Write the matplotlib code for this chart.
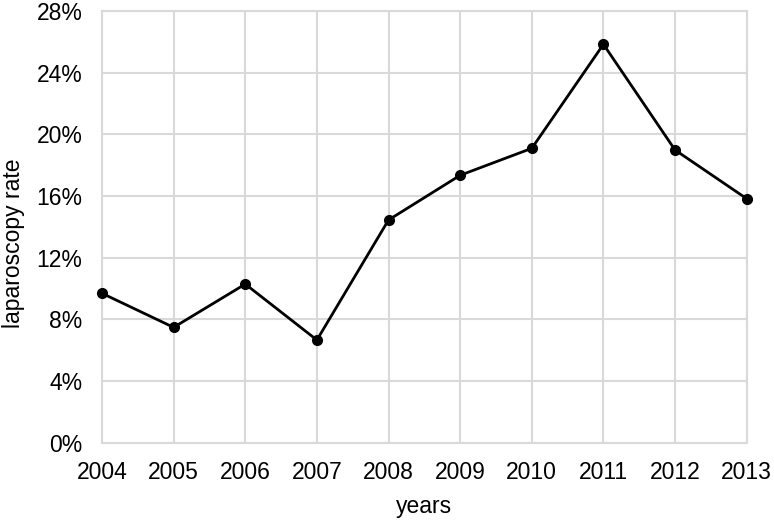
import matplotlib
matplotlib.use("Agg")
import matplotlib.pyplot as plt
from matplotlib.ticker import FuncFormatter

years = [2004, 2005, 2006, 2007, 2008, 2009, 2010, 2011, 2012, 2013]
rates = [9.68, 7.47, 10.28, 6.65, 14.44, 17.34, 19.09, 25.84, 18.98, 15.82]
yticks = [0, 4, 8, 12, 16, 20, 24, 28]

plt.rcParams['font.family'] = ['Liberation Sans', 'DejaVu Sans']

fig = plt.figure(figsize=(7.74, 5.2), dpi=100)
ax = fig.add_axes([102/774, 1-442.5/520, (746.7-102)/774, (442.5-11)/520])

ax.plot(years, rates, color='black', linewidth=2, marker='o', markersize=7, zorder=3, clip_on=False)

ax.set_xlim(years[0], years[-1])
ax.set_ylim(0, 28)
ax.set_xticks(years)
ax.set_xticklabels([str(y) for y in years])
ax.set_yticks(yticks)
ax.yaxis.set_major_formatter(FuncFormatter(lambda v, p: f"{int(v)}%"))

ax.grid(True, color='#d9d9d9', linewidth=1.5)
ax.set_axisbelow(True)
for s in ax.spines.values():
    s.set_color('#d9d9d9')
    s.set_linewidth(1.5)
ax.tick_params(length=0, labelsize=16.5, colors='black')
ax.tick_params(axis='x', pad=13)
ax.tick_params(axis='y', pad=14)

ax.set_xlabel('years', fontsize=16.5)
ax.set_ylabel('laparoscopy rate', fontsize=16.5)
ax.xaxis.set_label_coords(0.5, -0.122)
ax.yaxis.set_label_coords(-0.119, 0.462)

fig.savefig('out.png', dpi=100)
